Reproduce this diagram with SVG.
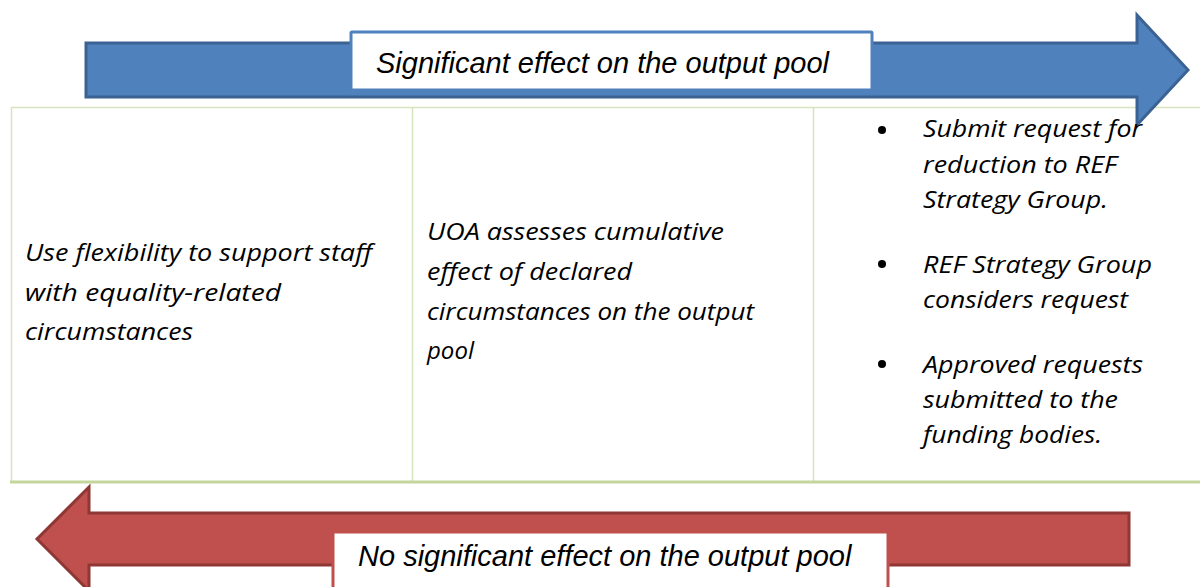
<svg xmlns="http://www.w3.org/2000/svg" width="1200" height="587" viewBox="0 0 1200 587">
<style>
.cell{font-family:"Open Sans",Lato,sans-serif;font-style:italic;font-size:24px;fill:#000}
.lbl{font-family:"Liberation Sans",Arial,sans-serif;font-style:italic;font-size:29px;fill:#000}
.grid{stroke:#D7E4BD;stroke-width:1.5;fill:none}
</style>
<rect width="1200" height="587" fill="#fff"/>
<g id="table">
<line class="grid" x1="11" y1="107.5" x2="1200" y2="107.5"/>
<line class="grid" x1="11.5" y1="107" x2="11.5" y2="482"/>
<line class="grid" x1="412.5" y1="107" x2="412.5" y2="482"/>
<line class="grid" x1="813.5" y1="107" x2="813.5" y2="482"/>
<line x1="10" y1="482" x2="1200" y2="482" stroke="#C3D69B" stroke-width="3"/>
</g>
<g id="connectors">
<g id="arrow-top">
<path d="M86,43 H1137 V15 L1188,70 L1137,125 V97 H86 Z" fill="#4F81BD" stroke="#3B6292" stroke-width="3" stroke-linejoin="miter"/>
<rect x="351" y="32" width="521" height="58" fill="#fff" stroke="#4F81BD" stroke-width="3" rx="1"/>
<text class="lbl" x="376" y="73">Significant effect on the output pool</text>
</g>
<g id="arrow-bottom">
<path d="M1129,513 V565 H89 V591 L37,539 L89,487 V513 Z" fill="#C0504D" stroke="#8E3735" stroke-width="3" stroke-linejoin="miter"/>
<rect x="333" y="532" width="555" height="60" fill="#fff" stroke="#C0504D" stroke-width="3" rx="1"/>
<text class="lbl" x="358" y="566">No significant effect on the output pool</text>
</g>
</g>
<g id="cell1">
<text class="cell" x="25" y="261" textLength="347" lengthAdjust="spacingAndGlyphs">Use flexibility to support staff</text>
<text class="cell" x="25" y="301" textLength="256" lengthAdjust="spacingAndGlyphs">with equality-related</text>
<text class="cell" x="25" y="340" textLength="168" lengthAdjust="spacingAndGlyphs">circumstances</text>
</g>
<g id="cell2">
<text class="cell" x="427" y="240" textLength="297" lengthAdjust="spacingAndGlyphs">UOA assesses cumulative</text>
<text class="cell" x="427" y="280" textLength="205" lengthAdjust="spacingAndGlyphs">effect of declared</text>
<text class="cell" x="427" y="320" textLength="327" lengthAdjust="spacingAndGlyphs">circumstances on the output</text>
<text class="cell" x="427" y="359">pool</text>
</g>
<g id="cell3">
<circle cx="882" cy="130" r="4"/>
<circle cx="882" cy="264" r="4"/>
<circle cx="882" cy="364" r="4"/>
<text class="cell" x="923" y="137" textLength="219" lengthAdjust="spacingAndGlyphs">Submit request for</text>
<text class="cell" x="923" y="173" textLength="194" lengthAdjust="spacingAndGlyphs">reduction to REF</text>
<text class="cell" x="923" y="208" textLength="185" lengthAdjust="spacingAndGlyphs">Strategy Group.</text>
<text class="cell" x="923" y="273" textLength="229" lengthAdjust="spacingAndGlyphs">REF Strategy Group</text>
<text class="cell" x="923" y="308" textLength="205" lengthAdjust="spacingAndGlyphs">considers request</text>
<text class="cell" x="923" y="373" textLength="220" lengthAdjust="spacingAndGlyphs">Approved requests</text>
<text class="cell" x="923" y="408" textLength="195" lengthAdjust="spacingAndGlyphs">submitted to the</text>
<text class="cell" x="923" y="443" textLength="179" lengthAdjust="spacingAndGlyphs">funding bodies.</text>
</g>
</svg>
